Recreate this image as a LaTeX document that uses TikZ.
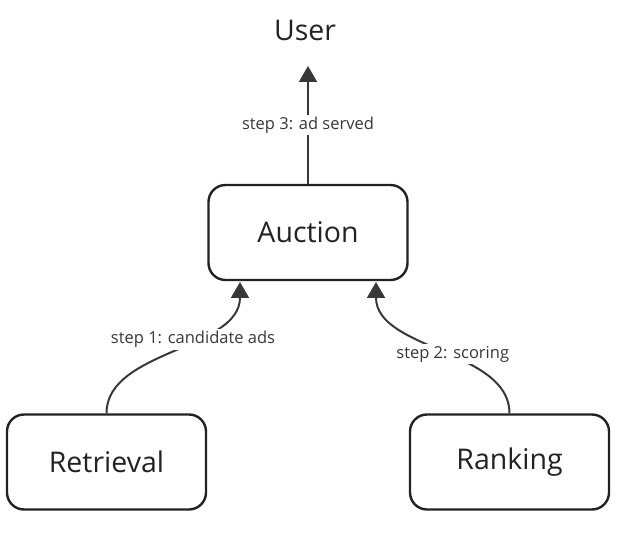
\documentclass[tikz,border=0pt]{standalone}
\usepackage{fontspec}
\setmainfont{Open Sans}
\usetikzlibrary{arrows.meta}
\definecolor{ink}{HTML}{222222}
\tikzset{
  box/.style={draw=ink, line width=2.4pt, rounded corners=17pt, minimum width=199pt, minimum height=95pt, inner sep=0pt, font=\fontsize{28.5}{33}\selectfont, text=ink},
  conn/.style={draw=ink!90, line width=2pt, -{Triangle[width=18pt,length=16pt]}},
  lbl/.style={fill=white, inner sep=2pt, font=\fontsize{16.5}{19}\selectfont, text=ink!90},
}
\begin{document}
\begin{tikzpicture}[x=1pt,y=-1pt]
\useasboundingbox (0,0) rectangle (626,534);
\node[font=\fontsize{28.5}{33}\selectfont, text=ink, inner sep=2pt] (user) at (305,30) {User};
\coordinate (usertip) at (308,66);
\node[box] (auction) at (308,232.5) {Auction};
\node[box] (retrieval) at (106.5,462) {Retrieval};
\node[box] (ranking) at (509.5,462) {Ranking};
\draw[conn] (auction.north -| usertip) -- node[lbl]{step 3: ad served} (usertip);
\coordinate (a1) at (240,282);
\coordinate (a2) at (376,282);
\draw[conn] (retrieval.north) .. controls (106.5,350) and (240,350) .. node[lbl, pos=0.6]{step 1: candidate ads} (a1);
\draw[conn] (ranking.north) .. controls (509.5,350) and (376,350) .. node[lbl, pos=0.45]{step 2: scoring} (a2);
\end{tikzpicture}
\end{document}
